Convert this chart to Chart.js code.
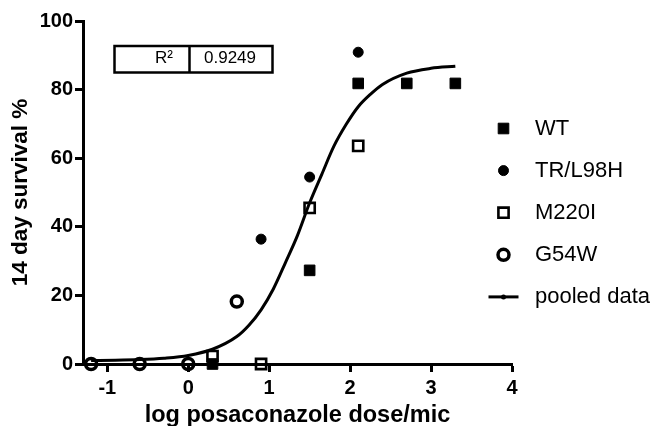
<!DOCTYPE html>
<html>
<head>
<meta charset="utf-8">
<script src="https://cdn.jsdelivr.net/npm/chart.js@4.4.0/dist/chart.umd.min.js"></script>
<style>
  body { margin: 0; background: #fff; }
</style>
</head>
<body>
<canvas id="myChart" width="653" height="426"></canvas>
<script>
// survival data (x = log dose/mic, y = % survival)
var wtX = [0.3, 1.5, 2.1, 2.7, 3.3];
var wtY = [0, 27.3, 81.8, 81.8, 81.8];
var trX = [0.9, 1.5, 2.1];
var trY = [36.4, 54.5, 90.9];
var m220X = [0.3, 0.9, 1.5, 2.1];
var m220Y = [2.3, 0, 45.5, 63.6];
var g54X = [-1.2, -0.6, 0, 0.6];
var g54Y = [0, 0, 0, 18.2];

// pooled fit curve
var fitX = [-1.2, -0.9, -0.6, -0.3, 0, 0.3, 0.6, 0.75, 0.9, 1.05, 1.2, 1.35, 1.5, 1.65, 1.8, 1.95, 2.1, 2.25, 2.4, 2.7, 3.0, 3.3];
var fitY = [1.0, 1.1, 1.3, 1.7, 2.5, 4.3, 8.0, 11.3, 15.8, 21.8, 29.5, 37.5, 47.0, 55.3, 63.5, 69.8, 75.0, 78.6, 81.5, 84.8, 86.2, 86.8];

var xTicks = [-1, 0, 1, 2, 3, 4];
var yTicks = [0, 20, 40, 60, 80, 100];
var r2Value = '0.9249';

var FONT = "'Liberation Sans', Arial, sans-serif";

function pts(xs, ys) {
  return xs.map(function (x, i) { return { x: x, y: ys[i] }; });
}

// legend drawn on the right, overlapping the plot like the original
var sideLegend = {
  id: 'sideLegend',
  afterDraw: function (chart) {
    var ctx = chart.ctx;
    var sx = 503.5, tx = 535;
    ctx.save();
    chart.data.datasets.forEach(function (ds, i) {
      var y = 128.5 + i * 42.1;
      ctx.fillStyle = ds.backgroundColor;
      ctx.strokeStyle = ds.borderColor;
      ctx.lineWidth = ds.borderWidth;
      if (ds.showLine) {
        ctx.beginPath();
        ctx.moveTo(sx - 15, y);
        ctx.lineTo(sx + 15, y);
        ctx.stroke();
        ctx.fillStyle = '#000';
        ctx.beginPath();
        ctx.arc(sx, y, 2.5, 0, Math.PI * 2);
        ctx.fill();
      } else {
        Chart.helpers.drawPoint(ctx, {
          pointStyle: ds.pointStyle, radius: ds.pointRadius,
          borderWidth: ds.borderWidth, rotation: 0
        }, sx, y);
      }
      ctx.fillStyle = '#000';
      ctx.font = '22px ' + FONT;
      ctx.textAlign = 'left';
      ctx.textBaseline = 'middle';
      ctx.fillText(ds.label, tx, y);
    });
    ctx.restore();
  }
};

// the little R² table in the top left
var r2Box = {
  id: 'r2Box',
  afterDraw: function (chart) {
    var ctx = chart.ctx;
    ctx.save();
    ctx.strokeStyle = '#000';
    ctx.lineWidth = 2.5;
    ctx.strokeRect(114.5, 46, 158, 26.5);
    ctx.beginPath();
    ctx.moveTo(189.5, 46);
    ctx.lineTo(189.5, 72.5);
    ctx.stroke();
    ctx.fillStyle = '#000';
    ctx.font = '17px ' + FONT;
    ctx.textBaseline = 'middle';
    ctx.textAlign = 'right';
    ctx.fillText('R²', 173, 58.5);
    ctx.textAlign = 'left';
    ctx.fillText(r2Value, 204, 58.5);
    ctx.restore();
  }
};

var ctx = document.getElementById('myChart').getContext('2d');
var myChart = new Chart(ctx, {
  type: 'scatter',
  data: {
    datasets: [{
      label: 'WT',
      data: pts(wtX, wtY),
      pointStyle: 'rect',
      pointRadius: 7.5,
      backgroundColor: '#000',
      borderColor: '#000',
      borderWidth: 1,
      clip: false
    }, {
      label: 'TR/L98H',
      data: pts(trX, trY),
      pointStyle: 'circle',
      pointRadius: 5,
      backgroundColor: '#000',
      borderColor: '#000',
      borderWidth: 1,
      clip: false
    }, {
      label: 'M220I',
      data: pts(m220X, m220Y),
      pointStyle: 'rect',
      pointRadius: 7.2,
      backgroundColor: 'rgba(255,255,255,0)',
      borderColor: '#000',
      borderWidth: 2.6,
      clip: false
    }, {
      label: 'G54W',
      data: pts(g54X, g54Y),
      pointStyle: 'circle',
      pointRadius: 5.5,
      backgroundColor: 'rgba(255,255,255,0)',
      borderColor: '#000',
      borderWidth: 3.5,
      clip: false
    }, {
      label: 'pooled data',
      data: pts(fitX, fitY),
      showLine: true,
      pointRadius: 0,
      borderColor: '#000',
      backgroundColor: '#000',
      borderWidth: 3,
      cubicInterpolationMode: 'monotone',
      clip: false
    }]
  },
  options: {
    responsive: false,
    animation: false,
    devicePixelRatio: 1,
    layout: { padding: { top: 21, right: 141, bottom: 0, left: 0 } },
    plugins: {
      legend: { display: false },
      tooltip: { enabled: false }
    },
    scales: {
      x: {
        type: 'linear',
        min: -1.3,
        max: 4,
        afterBuildTicks: function (s) { s.ticks = xTicks.map(function (v) { return { value: v }; }); },
        afterFit: function (s) { s.height = 62; },
        ticks: { color: '#000', padding: 4, font: { family: FONT, size: 20, weight: 'bold' } },
        grid: { display: true, drawOnChartArea: false, drawTicks: true, tickLength: 8, tickWidth: 3, tickColor: '#000' },
        border: { display: true, color: '#000', width: 3 },
        title: {
          display: true,
          text: 'log posaconazole dose/mic',
          color: '#000',
          padding: 0,
          font: { family: FONT, size: 23.5, weight: 'bold', lineHeight: 0.9 }
        }
      },
      y: {
        type: 'linear',
        min: 0,
        max: 100,
        afterBuildTicks: function (s) { s.ticks = yTicks.map(function (v) { return { value: v }; }); },
        afterFit: function (s) { s.width = 83; },
        ticks: { color: '#000', padding: 2, font: { family: FONT, size: 20, weight: 'bold' } },
        grid: { display: true, drawOnChartArea: false, drawTicks: true, tickLength: 8, tickWidth: 3, tickColor: '#000' },
        border: { display: true, color: '#000', width: 3 },
        title: {
          display: true,
          text: '14 day survival %',
          color: '#000',
          padding: { top: 7, bottom: 0 },
          font: { family: FONT, size: 22.5, weight: 'bold' }
        }
      }
    }
  },
  plugins: [sideLegend, r2Box]
});
</script>
</body>
</html>
